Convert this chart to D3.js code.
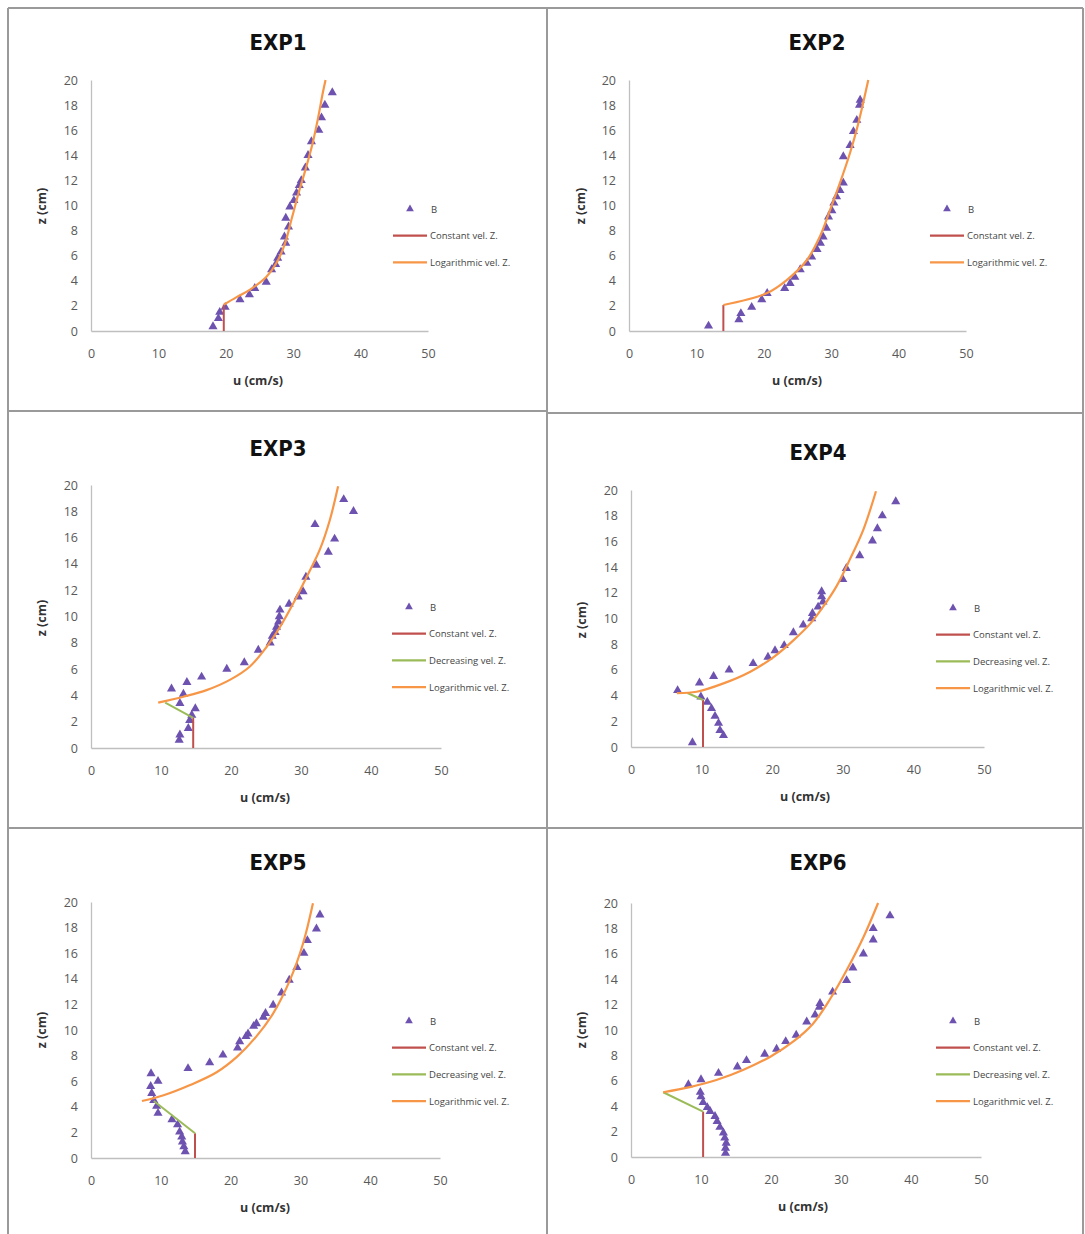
<!DOCTYPE html>
<html><head><meta charset="utf-8">
<script src="https://cdn.jsdelivr.net/npm/d3@7"></script>
<style>body{margin:0;background:#fff}svg{display:block}</style>
</head><body>
<script>
// ---------- DATA (u in cm/s, z in cm) ----------
const xTicks = [0, 10, 20, 30, 40, 50];
const yTicks = [0, 2, 4, 6, 8, 10, 12, 14, 16, 18, 20];
const titles = ["EXP1", "EXP2", "EXP3", "EXP4", "EXP5", "EXP6"];
const legendPoint = "B";
const legendConst = "Constant vel. Z.";
const legendDecr = "Decreasing vel. Z.";
const legendLog = "Logarithmic vel. Z.";

const exp1Points = [[35.8,19.0],[34.7,18.0],[34.2,17.0],[33.8,16.0],[32.7,15.1],[32.2,14.0],[31.8,13.0],[31.2,12.0],[30.9,11.6],[30.5,11.0],[30.1,10.4],[29.5,9.9],[28.9,9.0],[29.3,8.3],[28.7,7.5],[28.9,7.0],[28.2,6.3],[27.7,5.8],[27.4,5.3],[26.8,4.9],[26.0,3.9],[24.3,3.4],[23.5,2.9],[22.1,2.5],[19.9,1.9],[19.1,1.5],[18.9,1.0],[18.1,0.35]];
const exp1Const = [[19.7,0],[19.7,2.1]];
const exp1Log = [[19.7,2.1],[21.6,2.7],[23.6,3.3],[26.0,4.3],[27.6,5.5],[28.8,7.0],[29.8,9.0],[30.8,11.0],[31.9,13.0],[32.9,15.0],[33.7,17.0],[34.4,19.0],[34.8,20.0]];

const exp2Points = [[11.8,0.4],[16.3,0.9],[16.6,1.4],[18.2,1.9],[19.7,2.5],[20.5,3.0],[23.1,3.4],[23.9,3.8],[24.6,4.3],[25.4,4.9],[26.4,5.4],[27.1,5.9],[27.9,6.5],[28.4,7.0],[28.8,7.5],[29.3,8.2],[29.6,9.1],[30.1,9.6],[30.4,10.2],[30.8,10.7],[31.3,11.2],[31.8,11.8],[31.8,13.9],[32.8,14.8],[33.3,15.9],[33.8,16.8],[34.2,18.0],[34.3,18.4]];
const exp2Const = [[14.0,0],[14.0,2.07]];
const exp2Log = [[14.0,2.07],[20.4,3.0],[23.4,4.06],[26.4,5.66],[28.3,7.5],[29.8,9.6],[31.3,11.8],[32.8,14.2],[34.0,16.5],[35.5,20.0]];

const exp3Points = [[36.1,18.9],[37.5,18.0],[32.0,17.0],[34.8,15.9],[33.9,14.9],[32.2,13.9],[30.7,13.0],[30.3,11.9],[29.6,11.5],[28.3,10.95],[27.0,10.5],[26.9,10.0],[26.8,9.6],[26.5,9.2],[26.3,8.8],[25.9,8.5],[25.6,8.0],[23.9,7.45],[21.9,6.5],[19.4,6.0],[15.8,5.4],[13.7,5.0],[11.5,4.5],[13.2,4.1],[12.7,3.4],[14.9,3.0],[14.4,2.5],[14.1,2.1],[13.9,1.5],[12.7,1.0],[12.6,0.6]];
const exp3Const = [[14.6,0],[14.6,2.3]];
const exp3Decr = [[14.6,2.3],[10.6,3.45]];
const exp3Log = [[9.6,3.45],[13.2,3.9],[16.5,4.4],[19.9,5.2],[22.7,6.2],[25.1,7.7],[27.0,9.2],[28.9,11.0],[30.8,13.0],[32.7,15.1],[34.1,17.3],[35.3,19.9]];

const exp4Points = [[37.5,19.1],[35.6,18.0],[34.9,17.0],[34.2,16.05],[32.4,14.9],[30.5,13.9],[30.0,13.05],[27.0,12.1],[27.0,11.7],[27.2,11.3],[26.5,10.9],[25.7,10.4],[25.6,10.0],[24.4,9.5],[23.0,8.9],[21.7,7.9],[20.4,7.5],[19.4,7.0],[17.3,6.5],[13.9,6.0],[11.7,5.5],[9.7,5.0],[6.6,4.4],[9.9,3.9],[10.8,3.5],[11.4,3.0],[11.9,2.4],[12.4,1.85],[12.6,1.3],[13.1,0.9],[8.7,0.35]];
const exp4Const = [[10.2,0],[10.2,3.66]];
const exp4Decr = [[10.2,3.66],[8.0,4.2]];
const exp4Log = [[6.5,4.2],[9.3,4.3],[13.1,4.95],[16.9,5.86],[20.2,7.0],[23.0,8.3],[25.4,9.6],[27.2,10.9],[29.1,12.5],[31.0,14.6],[32.9,16.9],[34.7,19.9]];

const exp5Points = [[32.8,19.0],[32.3,17.9],[31.0,17.0],[30.5,16.0],[29.5,14.9],[28.4,13.9],[27.3,12.9],[26.1,11.95],[25.0,11.3],[24.7,11.0],[23.7,10.5],[23.3,10.3],[22.5,9.7],[22.2,9.5],[21.3,9.1],[21.0,8.6],[18.9,8.05],[17.0,7.45],[13.9,7.0],[8.6,6.6],[9.6,6.0],[8.55,5.6],[8.7,5.05],[9.0,4.5],[9.4,4.05],[9.6,3.5],[11.6,3.0],[12.4,2.6],[12.7,2.05],[13.0,1.66],[13.1,1.27],[13.3,0.88],[13.5,0.5]];
const exp5Const = [[14.9,0],[14.9,1.93]];
const exp5Decr = [[14.9,1.93],[9.0,4.45]];
const exp5Log = [[7.3,4.45],[10.4,4.9],[14.2,5.7],[18.0,6.7],[20.9,7.9],[23.7,9.5],[26.1,11.3],[28.5,13.9],[30.4,16.8],[31.8,19.9]];

const exp6Points = [[37.0,19.0],[34.6,18.0],[34.6,17.1],[33.2,16.0],[31.7,14.9],[30.8,13.9],[28.8,13.0],[27.0,12.1],[26.9,11.8],[26.3,11.2],[25.1,10.65],[23.6,9.6],[22.1,9.1],[20.8,8.5],[19.1,8.1],[16.5,7.6],[15.2,7.1],[12.5,6.6],[10.0,6.1],[8.2,5.7],[9.9,5.1],[10.0,4.75],[10.3,4.3],[10.9,3.9],[11.3,3.6],[12.0,3.2],[12.3,2.8],[12.7,2.35],[13.2,1.9],[13.4,1.5],[13.6,1.1],[13.5,0.7],[13.5,0.3]];
const exp6Const = [[10.3,0],[10.3,3.57]];
const exp6Decr = [[10.3,3.57],[4.6,5.1]];
const exp6Log = [[4.6,5.1],[8.4,5.5],[12.2,6.06],[16.0,6.85],[19.9,7.9],[23.2,9.1],[26.0,10.5],[28.4,12.4],[30.8,14.7],[33.2,17.3],[35.3,20.0]];

// ---------- LAYOUT ----------
const panels = [
  {title:titles[0], pts:exp1Points, cst:exp1Const, dec:null, log:exp1Log, L:91, R:428, T:80, B:331, tx:278, ty:50, xl:258, ylx:46, yl:206, legX:393, legY:209},
  {title:titles[1], pts:exp2Points, cst:exp2Const, dec:null, log:exp2Log, L:629, R:966, T:80, B:331, tx:817, ty:50, xl:797, ylx:585, yl:206, legX:930, legY:209},
  {title:titles[2], pts:exp3Points, cst:exp3Const, dec:exp3Decr, log:exp3Log, L:91, R:441, T:485, B:748, tx:278, ty:456, xl:265, ylx:46, yl:618, legX:392, legY:607},
  {title:titles[3], pts:exp4Points, cst:exp4Const, dec:exp4Decr, log:exp4Log, L:631, R:984, T:490, B:747, tx:818, ty:460, xl:805, ylx:586, yl:620, legX:936, legY:608},
  {title:titles[4], pts:exp5Points, cst:exp5Const, dec:exp5Decr, log:exp5Log, L:91, R:440, T:902, B:1158, tx:278, ty:870, xl:265, ylx:46, yl:1030, legX:392, legY:1021},
  {title:titles[5], pts:exp6Points, cst:exp6Const, dec:exp6Decr, log:exp6Log, L:631, R:981, T:903, B:1157, tx:818, ty:870, xl:803, ylx:586, yl:1030, legX:936, legY:1021}
];
const COL = {pt:"#6E52B0", cst:"#C0504D", dec:"#9BBB59", log:"#F79646", axis:"#BFBFBF", tick:"#595959"};

const W = 1085, H = 1234;
const svg = d3.select("body").append("svg").attr("width", W).attr("height", H);
svg.append("rect").attr("width", W).attr("height", H).attr("fill", "#fff");

// panel frames
const frame = svg.append("g").attr("stroke", "#9a9a9a").attr("stroke-width", 2).attr("fill", "none");
frame.append("line").attr("x1", 8).attr("x2", 1083).attr("y1", 8).attr("y2", 8);
frame.append("line").attr("x1", 8).attr("x2", 8).attr("y1", 8).attr("y2", 1234);
frame.append("line").attr("x1", 1083).attr("x2", 1083).attr("y1", 8).attr("y2", 1234);
frame.append("line").attr("x1", 547).attr("x2", 547).attr("y1", 8).attr("y2", 1234);
frame.append("line").attr("x1", 8).attr("x2", 547).attr("y1", 411).attr("y2", 411);
frame.append("line").attr("x1", 547).attr("x2", 1083).attr("y1", 413).attr("y2", 413);
frame.append("line").attr("x1", 8).attr("x2", 1083).attr("y1", 828).attr("y2", 828);

const tri = d3.symbol().type(d3.symbolTriangle).size(36);

panels.forEach(p => {
  const x = d3.scaleLinear().domain([0, 50]).range([p.L, p.R]);
  const y = d3.scaleLinear().domain([0, 20]).range([p.B, p.T]);
  const g = svg.append("g");

  // axes
  const xa = g.append("g").attr("transform", `translate(0,${p.B})`)
    .call(d3.axisBottom(x).tickValues(xTicks).tickSize(0).tickPadding(18));
  const ya = g.append("g").attr("transform", `translate(${p.L},0)`)
    .call(d3.axisLeft(y).tickValues(yTicks).tickSize(0).tickPadding(13));
  [xa, ya].forEach(a => {
    a.select(".domain").attr("stroke", COL.axis).attr("stroke-width", 1.3);
    a.selectAll("text").attr("fill", COL.tick).style("font-family", "'Open Sans', sans-serif").style("font-size", "12.5px");
  });

  const line = d3.line().x(d => x(d[0])).y(d => y(d[1]));
  const curve = d3.line().x(d => x(d[0])).y(d => y(d[1])).curve(d3.curveCatmullRom.alpha(0.5));

  // points first (lines drawn over them like the reference)
  g.selectAll("path.pt").data(p.pts).join("path").attr("class", "pt")
    .attr("d", tri).attr("transform", d => `translate(${x(d[0])},${y(d[1])})`)
    .attr("fill", COL.pt);

  g.append("path").attr("d", line(p.cst)).attr("fill", "none").attr("stroke", COL.cst).attr("stroke-width", 2);
  if (p.dec) g.append("path").attr("d", line(p.dec)).attr("fill", "none").attr("stroke", COL.dec).attr("stroke-width", 2);
  g.append("path").attr("d", curve(p.log)).attr("fill", "none").attr("stroke", COL.log).attr("stroke-width", 2.2);

  // title
  g.append("text").attr("x", p.tx).attr("y", p.ty).attr("text-anchor", "middle")
    .style("font-family", "'DejaVu Sans Condensed', 'DejaVu Sans', sans-serif").style("font-weight", "bold")
    .style("font-size", "22px").attr("fill", "#111").text(p.title);
  // axis labels
  g.append("text").attr("x", p.xl).attr("y", p.B + 54).attr("text-anchor", "middle")
    .style("font-family", "'Open Sans', sans-serif").style("font-weight", "bold").style("font-size", "12.5px")
    .attr("fill", "#333").text("u (cm/s)");
  g.append("text").attr("transform", `translate(${p.ylx},${p.yl}) rotate(-90)`).attr("text-anchor", "middle")
    .style("font-family", "'Open Sans', sans-serif").style("font-weight", "bold").style("font-size", "12.5px")
    .attr("fill", "#333").text("z (cm)");

  // legend
  const items = [{t:legendPoint, type:"pt"}, {t:legendConst, c:COL.cst}];
  if (p.dec) items.push({t:legendDecr, c:COL.dec});
  items.push({t:legendLog, c:COL.log});
  const lg = g.append("g");
  items.forEach((it, i) => {
    const yy = p.legY + i * 26.7;
    if (it.type === "pt") {
      lg.append("path").attr("d", d3.symbol().type(d3.symbolTriangle).size(26)())
        .attr("transform", `translate(${p.legX + 17},${yy})`).attr("fill", COL.pt);
      lg.append("text").attr("x", p.legX + 38).attr("y", yy + 3.5).text(it.t);
    } else {
      lg.append("line").attr("x1", p.legX).attr("x2", p.legX + 34).attr("y1", yy).attr("y2", yy)
        .attr("stroke", it.c).attr("stroke-width", 2.2);
      lg.append("text").attr("x", p.legX + 37).attr("y", yy + 3.5).text(it.t);
    }
  });
  lg.selectAll("text").style("font-family", "'Open Sans', sans-serif").style("font-size", "9.5px").attr("fill", "#444");
});
</script>
</body></html>
